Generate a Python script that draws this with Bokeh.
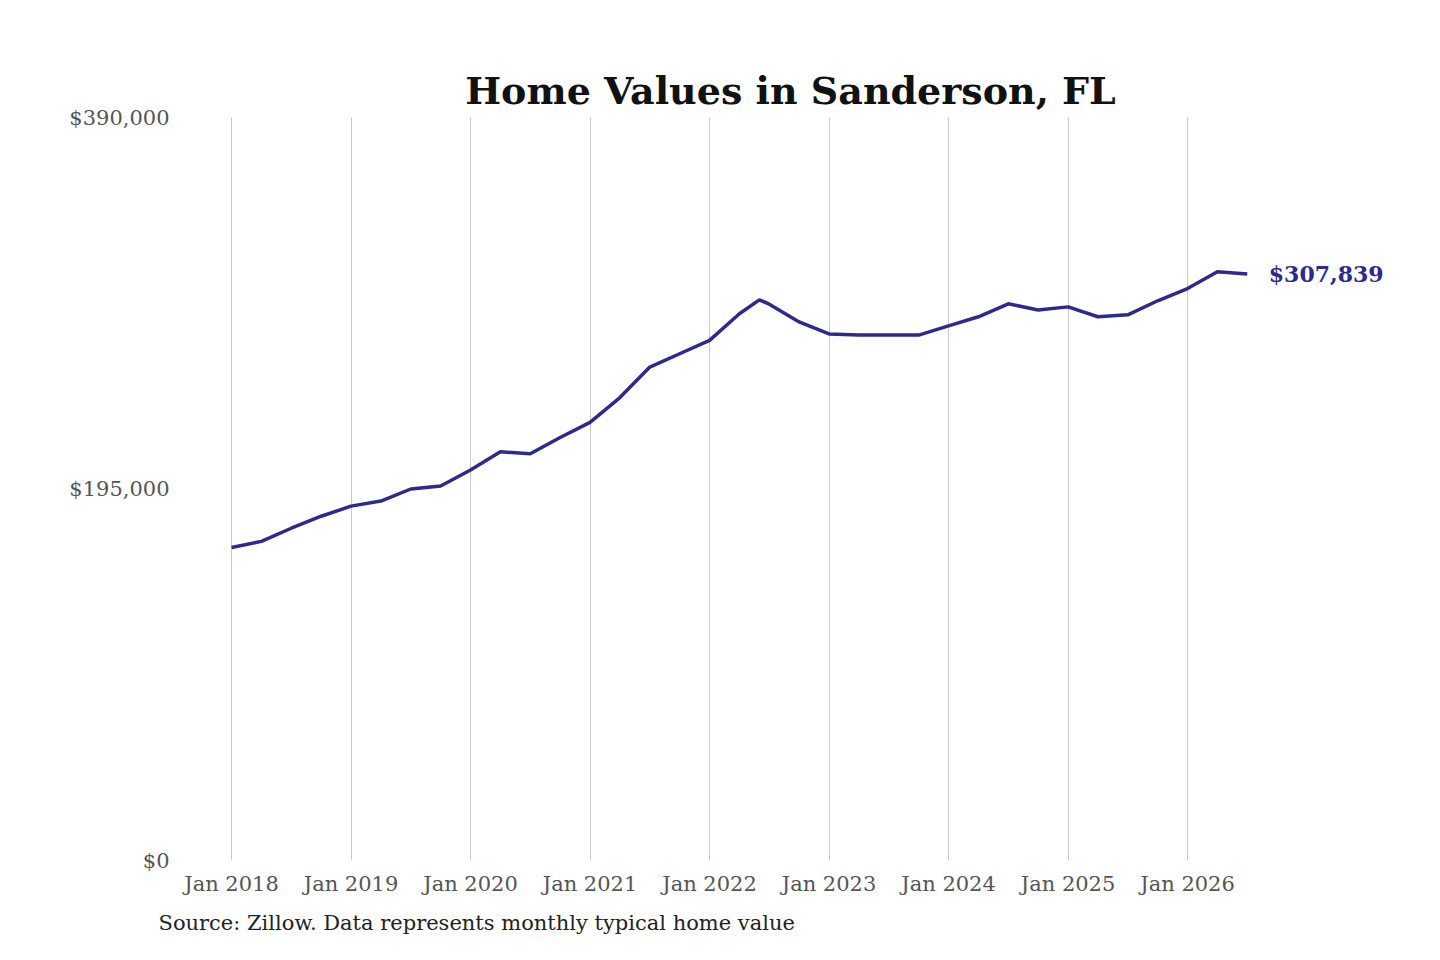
import numpy as np
from bokeh.plotting import figure
from bokeh.models import FixedTicker, Label, Title, NumeralTickFormatter
from bokeh.embed import file_html
from bokeh.resources import INLINE

dates = ["2018-01","2018-04","2018-07","2018-10","2019-01","2019-04","2019-07","2019-10",
         "2020-01","2020-04","2020-07","2020-10","2021-01","2021-04","2021-07","2021-10",
         "2022-01","2022-04","2022-06","2022-07","2022-10","2023-01","2023-04","2023-07","2023-10",
         "2024-01","2024-04","2024-07","2024-10","2025-01","2025-04","2025-07","2025-10",
         "2026-01","2026-04","2026-07"]
values = [164300,167500,174400,180700,186000,188700,195000,196600,
          205000,214500,213500,222000,230000,243000,259000,266000,
          273000,287000,294300,292000,282700,276400,275800,275800,275800,
          280600,285400,292200,289000,290600,285400,286400,293800,
          300200,309000,307839]
year_ticks = list(range(2018, 2027))
year_labels = {y: f"Jan {y}" for y in year_ticks}
y_ticks = [0, 195000, 390000]

xs = [int(d[:4]) + (int(d[5:]) - 1) / 12 for d in dates]
serif = "DejaVu Serif"
color = "#2e2a8c"

p = figure(width=1424, height=944, output_backend="svg", toolbar_location=None,
           x_range=(2017.573, 2027.782), y_range=(0, 390000),
           min_border_left=180, min_border_right=24, min_border_top=117, min_border_bottom=60)
p.title = Title(text="Home Values in Sanderson, FL", align="center", offset=-100,
                text_font=serif, text_font_size="38px", text_font_style="bold", text_color="#111111")
p.outline_line_color = None
p.line(xs, values, line_color=color, line_width=3.5)

p.xaxis.ticker = FixedTicker(ticks=year_ticks)
p.xaxis.major_label_overrides = year_labels
p.yaxis.ticker = FixedTicker(ticks=y_ticks)
p.yaxis.formatter = NumeralTickFormatter(format="$0,0")
for ax in (p.xaxis, p.yaxis):
    ax.axis_line_color = None
    ax.major_tick_line_color = None
    ax.minor_tick_line_color = None
    ax.major_label_text_font = serif
    ax.major_label_text_font_size = "21px"
    ax.major_label_text_color = "#555555"
p.xgrid.ticker = FixedTicker(ticks=year_ticks)
p.xgrid.grid_line_color = "#c8c8c8"
p.ygrid.grid_line_color = None

p.add_layout(Label(x=xs[-1] + 0.18, y=values[-1], text=f"${values[-1]:,}",
                   text_font=serif, text_font_size="22px", text_font_style="bold",
                   text_color=color, text_baseline="middle"))
p.add_layout(Title(text="Source: Zillow. Data represents monthly typical home value",
                   align="left", offset=-22, standoff=20,
                   text_font=serif, text_font_size="21px", text_font_style="normal",
                   text_color="#222222"), "below")

open("out.html", "w").write(file_html(p, INLINE))
